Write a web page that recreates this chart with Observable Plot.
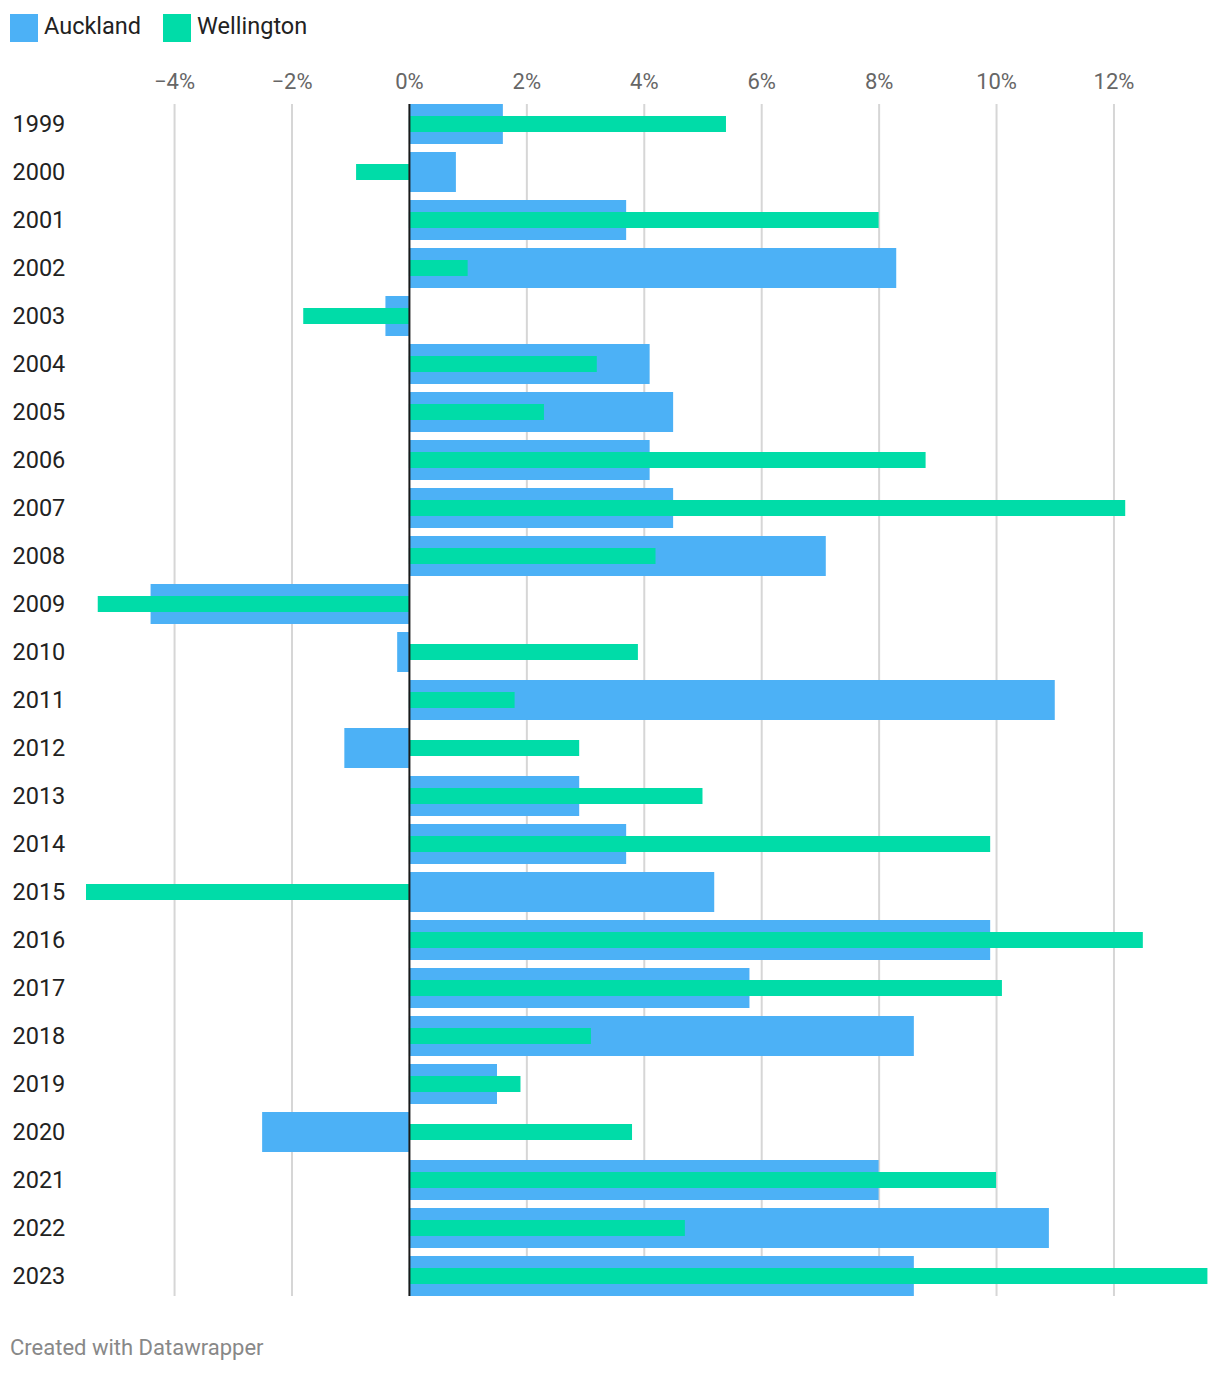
<!DOCTYPE html>
<html>
<head>
<meta charset="utf-8">
<script src="https://cdn.jsdelivr.net/npm/d3@7"></script>
<script src="https://cdn.jsdelivr.net/npm/@observablehq/plot@0.6"></script>
<style>
  html, body { margin: 0; padding: 0; background: #fff; }
  body { width: 1220px; height: 1374px; font-family: Roboto, "Noto Sans", sans-serif; position: relative; overflow: hidden; }
  #legend { position: absolute; left: 10px; top: 14px; height: 28px; display: flex; align-items: center; }
  .item { display: flex; align-items: center; margin-right: 22px; }
  .sw { width: 28px; height: 28px; margin-right: 6px; }
  .lab { font-size: 23.5px; color: #222; line-height: 28px; position: relative; top: -2px; }
  #chart { position: absolute; left: 0; top: 50px; }
  #caption { position: absolute; left: 10px; top: 1336px; font-size: 22px; line-height: 24px; color: #888; }
</style>
</head>
<body>
<div id="legend"></div>
<div id="chart"></div>
<div id="caption">Created with Datawrapper</div>
<script>
const years = ["1999","2000","2001","2002","2003","2004","2005","2006","2007","2008","2009","2010","2011","2012","2013","2014","2015","2016","2017","2018","2019","2020","2021","2022","2023"];
const auckland = [1.6, 0.8, 3.7, 8.3, -0.4, 4.1, 4.5, 4.1, 4.5, 7.1, -4.4, -0.2, 11.0, -1.1, 2.9, 3.7, 5.2, 9.9, 5.8, 8.6, 1.5, -2.5, 8.0, 10.9, 8.6];
const wellington = [5.4, -0.9, 8.0, 1.0, -1.8, 3.2, 2.3, 8.8, 12.2, 4.2, -5.3, 3.9, 1.8, 2.9, 5.0, 9.9, -5.5, 12.5, 10.1, 3.1, 1.9, 3.8, 10.0, 4.7, 13.6];
const seriesNames = ["Auckland", "Wellington"];
const seriesColors = ["#4cb1f6", "#00dca8"];
const tickValues = [-4, -2, 0, 2, 4, 6, 8, 10, 12];
const gridValues = [-4, -2, 2, 4, 6, 8, 10, 12];

const aData = years.map((y, i) => ({year: y, value: auckland[i]}));
const wData = years.map((y, i) => ({year: y, value: wellington[i]}));
const fmt = d => (d < 0 ? "\u2212" : "") + Math.abs(d) + "%";

// legend
const legend = document.getElementById("legend");
seriesNames.forEach((n, i) => {
  const it = document.createElement("div"); it.className = "item";
  const sw = document.createElement("div"); sw.className = "sw"; sw.style.background = seriesColors[i];
  const lb = document.createElement("div"); lb.className = "lab"; lb.textContent = n;
  it.appendChild(sw); it.appendChild(lb); legend.appendChild(it);
});

const chart = Plot.plot({
  width: 1220,
  height: 1250,
  marginTop: 54,
  marginBottom: 4,
  marginLeft: 86,
  marginRight: 12,
  style: {fontFamily: "Roboto, sans-serif", background: "#fff"},
  x: {domain: [-5.5, 13.61], axis: null},
  y: {domain: years, axis: null, paddingInner: 1/6, paddingOuter: 0, align: 0.5},
  marks: [
    Plot.ruleX(gridValues, {x: d => d, stroke: "#d6d6d6", strokeWidth: 2}),
    Plot.barX(aData, {x: "value", y: "year", fill: seriesColors[0]}),
    Plot.barX(wData, {x: "value", y: "year", fill: seriesColors[1], insetTop: 12, insetBottom: 12}),
    Plot.ruleX([0], {stroke: "#1a1a1a", strokeWidth: 2}),
    Plot.text(tickValues, {x: d => d, text: fmt, frameAnchor: "top", dy: -23, lineAnchor: "middle", textAnchor: "middle", fontSize: 22, fill: "#666"}),
    Plot.text(years, {y: d => d, text: d => d, frameAnchor: "left", textAnchor: "start", dx: -74, lineAnchor: "middle", fontSize: 23.5, fill: "#222"})
  ]
});
document.getElementById("chart").appendChild(chart);
</script>
</body>
</html>
